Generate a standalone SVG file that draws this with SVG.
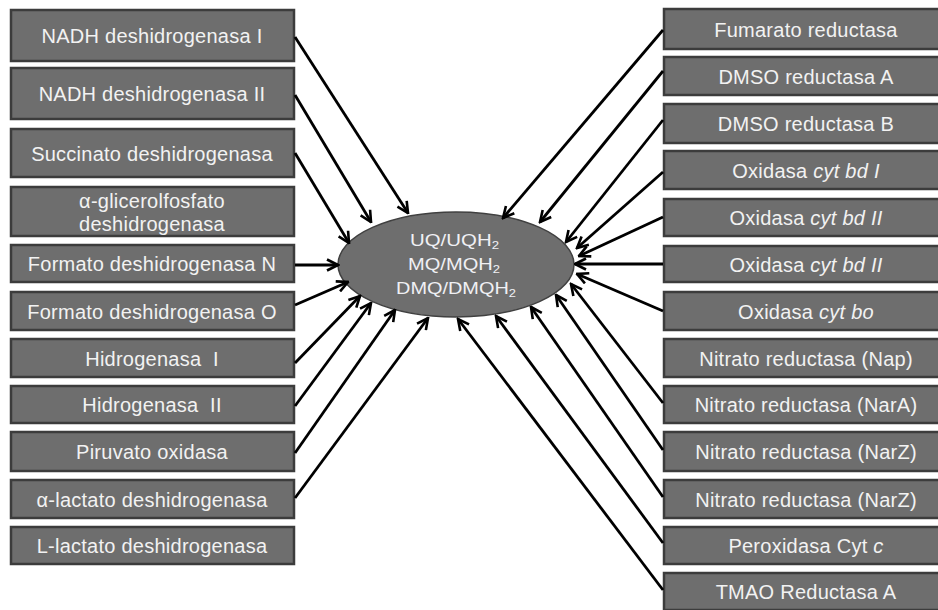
<svg xmlns="http://www.w3.org/2000/svg" width="938" height="610" viewBox="0 0 938 610">
  <style>
    .box { fill: #6e6e6e; stroke: #3c3c3c; stroke-width: 2.5; }
    .lbl { font-family: "Liberation Sans", Arial, sans-serif; font-size: 20px; fill: #f2f2f2; text-anchor: middle; letter-spacing: 0.25px; }
    .core { fill: #6e6e6e; stroke: #404040; stroke-width: 1.5; }
    .coretxt { font-family: "Liberation Sans", Arial, sans-serif; font-size: 17px; fill: #f0f0f4; }
    .sub { font-size: 11px; }
    .link { stroke: #000; stroke-width: 2.8; fill: none; marker-end: url(#vhead); }
  </style>
  <defs>
    <marker id="vhead" markerUnits="userSpaceOnUse" viewBox="0 0 14 14" markerWidth="14" markerHeight="14" refX="12.5" refY="7" orient="auto">
      <path d="M1.5,1.5 L12.5,7 L1.5,12.5" fill="none" stroke="#000" stroke-width="2.6"/>
    </marker>
  </defs>
  <rect width="938" height="610" fill="#ffffff"/>

  <!-- electron donors (left column) -->
  <g id="nadh1"><rect class="box" x="11" y="10" width="283" height="51"/><text class="lbl" x="152" y="43">NADH deshidrogenasa I</text></g>
  <g id="nadh2"><rect class="box" x="11" y="68" width="283" height="51"/><text class="lbl" x="152" y="101">NADH deshidrogenasa II</text></g>
  <g id="succinato"><rect class="box" x="11" y="129" width="283" height="48"/><text class="lbl" x="152" y="160.5">Succinato deshidrogenasa</text></g>
  <g id="glicerolfosfato"><rect class="box" x="11" y="187" width="283" height="49"/><text class="lbl" x="152" y="208">α-glicerolfosfato</text><text class="lbl" x="152" y="231">deshidrogenasa</text></g>
  <g id="formatoN"><rect class="box" x="11" y="245" width="283" height="37"/><text class="lbl" x="152" y="271">Formato deshidrogenasa N</text></g>
  <g id="formatoO"><rect class="box" x="11" y="292" width="283" height="38"/><text class="lbl" x="152" y="318.5">Formato deshidrogenasa O</text></g>
  <g id="hidrogenasa1"><rect class="box" x="11" y="339" width="283" height="38"/><text class="lbl" x="152" y="365.5" xml:space="preserve">Hidrogenasa  I</text></g>
  <g id="hidrogenasa2"><rect class="box" x="11" y="386" width="283" height="37"/><text class="lbl" x="152" y="412" xml:space="preserve">Hidrogenasa  II</text></g>
  <g id="piruvato"><rect class="box" x="11" y="432" width="283" height="39"/><text class="lbl" x="152" y="459">Piruvato oxidasa</text></g>
  <g id="alactato"><rect class="box" x="11" y="480" width="283" height="38"/><text class="lbl" x="152" y="506.5">α-lactato deshidrogenasa</text></g>
  <g id="llactato"><rect class="box" x="11" y="527" width="283" height="37"/><text class="lbl" x="152" y="553">L-lactato deshidrogenasa</text></g>

  <!-- electron acceptors (right column) -->
  <g id="fumarato"><rect class="box" x="664" y="9" width="284" height="40"/><text class="lbl" x="806" y="36.5">Fumarato reductasa</text></g>
  <g id="dmsoA"><rect class="box" x="664" y="57" width="284" height="38"/><text class="lbl" x="806" y="83.5">DMSO reductasa A</text></g>
  <g id="dmsoB"><rect class="box" x="664" y="104" width="284" height="39"/><text class="lbl" x="806" y="131">DMSO reductasa B</text></g>
  <g id="cytbd1"><rect class="box" x="664" y="151" width="284" height="38"/><text class="lbl" x="806" y="177.5">Oxidasa <tspan font-style="italic">cyt bd I</tspan></text></g>
  <g id="cytbd2a"><rect class="box" x="664" y="199" width="284" height="37"/><text class="lbl" x="806" y="225">Oxidasa <tspan font-style="italic">cyt bd II</tspan></text></g>
  <g id="cytbd2b"><rect class="box" x="664" y="246" width="284" height="36"/><text class="lbl" x="806" y="271.5">Oxidasa <tspan font-style="italic">cyt bd II</tspan></text></g>
  <g id="cytbo"><rect class="box" x="664" y="292" width="284" height="38"/><text class="lbl" x="806" y="318.5">Oxidasa <tspan font-style="italic">cyt bo</tspan></text></g>
  <g id="nap"><rect class="box" x="664" y="339" width="284" height="38"/><text class="lbl" x="806" y="365.5">Nitrato reductasa (Nap)</text></g>
  <g id="narA"><rect class="box" x="664" y="386" width="284" height="37"/><text class="lbl" x="806" y="412">Nitrato reductasa (NarA)</text></g>
  <g id="narZ1"><rect class="box" x="664" y="432" width="284" height="39"/><text class="lbl" x="806" y="459">Nitrato reductasa (NarZ)</text></g>
  <g id="narZ2"><rect class="box" x="664" y="480" width="284" height="38"/><text class="lbl" x="806" y="506.5">Nitrato reductasa (NarZ)</text></g>
  <g id="peroxidasa"><rect class="box" x="664" y="527" width="284" height="37"/><text class="lbl" x="806" y="553">Peroxidasa Cyt <tspan font-style="italic">c</tspan></text></g>
  <g id="tmao"><rect class="box" x="664" y="573" width="284" height="37"/><text class="lbl" x="806" y="599">TMAO Reductasa A</text></g>

  <!-- quinone pool -->
  <g id="quinonas">
    <ellipse class="core" cx="456" cy="264.5" rx="118" ry="52.5"/>
    <text class="coretxt" x="410" y="246" textLength="89" lengthAdjust="spacingAndGlyphs">UQ/UQH<tspan class="sub" dy="3">2</tspan></text>
    <text class="coretxt" x="408" y="269.5" textLength="92" lengthAdjust="spacingAndGlyphs">MQ/MQH<tspan class="sub" dy="3">2</tspan></text>
    <text class="coretxt" x="396" y="293.5" textLength="120" lengthAdjust="spacingAndGlyphs">DMQ/DMQH<tspan class="sub" dy="3">2</tspan></text>
  </g>

  <!-- connectors -->
  <g id="connectors">
    <line class="link" x1="295" y1="37" x2="408" y2="213"/>
    <line class="link" x1="295" y1="95" x2="371" y2="222"/>
    <line class="link" x1="295" y1="153" x2="349" y2="243"/>
    <line class="link" x1="295" y1="265" x2="338" y2="265"/>
    <line class="link" x1="295" y1="305" x2="348" y2="282"/>
    <line class="link" x1="295" y1="363" x2="360" y2="296"/>
    <line class="link" x1="295" y1="406" x2="371" y2="303"/>
    <line class="link" x1="295" y1="453" x2="395" y2="310"/>
    <line class="link" x1="295" y1="498" x2="428" y2="318"/>

    <line class="link" x1="663" y1="30" x2="503" y2="218"/>
    <line class="link" x1="663" y1="71" x2="540" y2="222"/>
    <line class="link" x1="663" y1="120" x2="566" y2="242"/>
    <line class="link" x1="663" y1="172" x2="577" y2="248"/>
    <line class="link" x1="663" y1="217" x2="579" y2="256"/>
    <line class="link" x1="663" y1="264" x2="575" y2="264"/>
    <line class="link" x1="663" y1="311" x2="577" y2="274"/>
    <line class="link" x1="663" y1="403" x2="571" y2="284"/>
    <line class="link" x1="663" y1="450" x2="556" y2="295"/>
    <line class="link" x1="663" y1="497" x2="531" y2="307"/>
    <line class="link" x1="663" y1="543" x2="496" y2="316"/>
    <line class="link" x1="663" y1="590" x2="458" y2="319"/>
  </g>
</svg>
